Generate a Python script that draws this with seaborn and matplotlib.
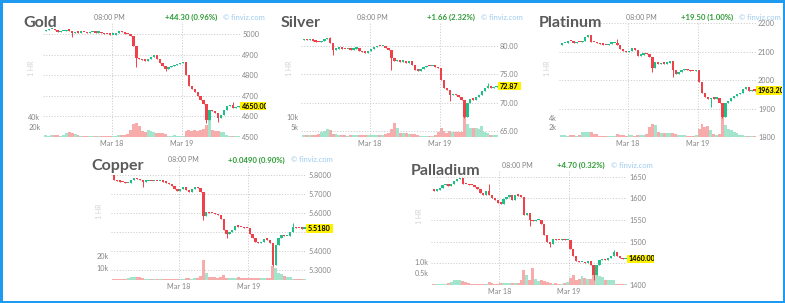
import numpy as np
import pandas as pd
import matplotlib
matplotlib.use("Agg")
import matplotlib.pyplot as plt
import matplotlib.transforms as mtransforms
from matplotlib.patches import Rectangle
import seaborn as sns

# ---------------- data: 1-hour candles, closes / volumes (thousands) ----------------
day_pos = [22.5, 46.5]
day_labels = ["Mar 18", "Mar 19"]

gold_open0 = 5015
gold_close = [5020, 5022, 5026, 5018, 5010, 5012, 5015, 5020, 5016, 5005,
              5008, 5006, 5008, 5007, 5005, 5007, 5008, 5006, 5010, 5004,
              5000, 4998, 4996, 4997, 5005, 5014, 5010, 5002, 5000, 4990,
              4940, 4885, 4878, 4872, 4870, 4876, 4890, 4897, 4880, 4860,
              4845, 4832, 4838, 4845, 4848, 4852, 4858, 4862, 4800, 4745,
              4735, 4718, 4700, 4680, 4662, 4582, 4630, 4625, 4615, 4590,
              4605, 4630, 4650, 4655, 4640, 4645, 4650]
gold_vol = [3.5, 3, 3.5, 4, 5, 3, 3.5, 8, 10, 9,
            7, 4, 3, 3, 2.5, 2.5, 2, 2, 2.5, 3,
            3, 2.5, 3, 3, 3, 3.5, 4, 5, 6, 14,
            28, 30, 24, 13, 11, 14, 12, 10, 9, 8,
            8, 7, 3, 3, 4, 3, 3, 3, 13, 14,
            13, 14, 13, 15, 16, 26, 48, 14, 12, 13,
            11, 10, 4, 3, 3, 2.5, 2]
gold_wicks = {9: (None, 4985), 31: (None, 4840), 41: (None, 4818),
              55: (None, 4570), 59: (None, 4575), 64: (4672, None)}
gold_ticks = [4500, 4600, 4700, 4800, 4900, 5000]

silver_open0 = 81.0
silver_close = [81.1, 81.0, 81.1, 80.9, 80.7, 80.6, 80.8, 81.2, 81.3, 80.4,
                79.3, 79.5, 79.6, 79.5, 79.4, 79.4, 79.3, 79.5, 79.6, 79.1,
                78.9, 78.8, 79.1, 79.4, 79.8, 80.0, 79.9, 80.0, 79.6, 79.2,
                77.9, 77.3, 77.5, 77.2, 77.3, 77.0, 77.3, 76.6, 75.8, 75.6,
                75.9, 76.2, 76.5, 76.4, 76.5, 76.3, 76.0, 74.0, 72.6, 72.3,
                71.3, 71.6, 71.3, 71.0, 70.4, 67.5, 70.0, 70.6, 70.5, 70.9,
                71.4, 72.0, 72.6, 72.9, 72.6, 72.7, 72.87]
silver_vol = [1.0, 1.0, 0.9, 1.0, 1.2, 1.7, 2.5, 3.0, 4.2, 3.5,
              1.8, 1.5, 1.2, 0.8, 0.8, 0.7, 0.8, 0.8, 0.9, 1.0,
              1.0, 0.9, 1.0, 1.0, 1.1, 1.2, 1.3, 1.3, 1.5, 2.0,
              4.2, 7.5, 5.0, 2.2, 2.0, 2.0, 1.8, 1.8, 1.6, 1.2,
              0.7, 0.7, 0.6, 0.7, 0.6, 0.8, 2.5, 5.0, 3.4, 2.2,
              3.4, 2.5, 2.4, 2.5, 2.6, 14.0, 7.0, 5.0, 5.0, 4.5,
              4.2, 6.0, 2.5, 2.0, 1.0, 0.8, 0.8]
silver_wicks = {9: (81.6, None), 10: (None, 78.3), 30: (None, 75.8),
                50: (None, 70.3), 55: (None, 67.3), 63: (73.4, None)}
silver_ticks = [65, 70, 75, 80]

platinum_open0 = 2124
platinum_close = [2129, 2132, 2138, 2136, 2130, 2134, 2133, 2136, 2150, 2158,
                  2135, 2133, 2130, 2127, 2125, 2124, 2128, 2130, 2131, 2122,
                  2108, 2102, 2098, 2104, 2112, 2106, 2086, 2090, 2095, 2092,
                  2080, 2042, 2064, 2056, 2060, 2058, 2062, 2066, 2036, 2022,
                  2030, 2035, 2040, 2034, 2032, 2031, 2034, 1995, 1955, 1940,
                  1932, 1936, 1935, 1938, 1920, 1872, 1920, 1925, 1938, 1945,
                  1950, 1955, 1968, 1975, 1962, 1964, 1963.2]
platinum_vol = [0.4, 0.4, 0.3, 0.4, 0.4, 0.3, 0.4, 1.0, 1.1, 1.1,
                1.0, 0.7, 0.6, 0.3, 0.3, 0.2, 0.2, 0.2, 0.2, 0.7,
                0.5, 0.4, 0.3, 0.4, 0.4, 0.3, 0.4, 0.4, 0.5, 0.6,
                2.2, 2.8, 2.6, 1.0, 0.9, 0.8, 0.8, 0.9, 0.8, 0.6,
                0.4, 0.4, 0.5, 0.3, 0.3, 0.3, 0.4, 1.8, 2.8, 2.2,
                2.4, 1.5, 0.6, 0.5, 0.6, 4.8, 2.6, 1.8, 1.5, 1.1,
                0.9, 0.5, 0.4, 0.3, 0.3, 0.2, 0.2]
platinum_wicks = {19: (2145, None), 31: (None, 2028), 38: (None, 2012),
                  51: (None, 1905), 55: (None, 1868)}
platinum_ticks = [1800, 1900, 2000, 2100, 2200]

copper_open0 = 5.800
copper_close = [5.774, 5.768, 5.765, 5.762, 5.758, 5.760, 5.772, 5.785, 5.778, 5.772,
                5.765, 5.768, 5.770, 5.768, 5.768, 5.766, 5.768, 5.765, 5.760, 5.752,
                5.742, 5.725, 5.718, 5.728, 5.735, 5.722, 5.712, 5.725, 5.738, 5.732,
                5.712, 5.585, 5.605, 5.600, 5.598, 5.594, 5.590, 5.570, 5.510, 5.488,
                5.500, 5.512, 5.530, 5.528, 5.525, 5.522, 5.520, 5.490, 5.470, 5.450,
                5.440, 5.448, 5.462, 5.460, 5.440, 5.328, 5.430, 5.470, 5.482, 5.478,
                5.480, 5.500, 5.528, 5.522, 5.520, 5.518, 5.518]
copper_vol = [1.2, 1.2, 1.0, 1.0, 1.2, 1.3, 2.3, 2.5, 2.5, 2.3,
              2.0, 1.0, 0.9, 0.9, 0.8, 0.8, 0.9, 0.8, 0.9, 1.0,
              1.0, 1.2, 1.2, 1.0, 1.2, 1.3, 1.3, 1.2, 1.4, 1.6,
              3.0, 17.0, 6.0, 2.5, 2.3, 2.3, 2.0, 2.8, 4.0, 1.8,
              1.5, 1.3, 1.5, 2.8, 1.5, 1.3, 1.6, 1.8, 1.5, 2.0,
              1.6, 1.5, 1.8, 1.5, 2.0, 11.5, 10.0, 6.0, 5.0, 3.0,
              2.8, 2.5, 1.0, 0.9, 0.8, 0.8, 0.8]
copper_wicks = {10: (None, 5.735), 31: (None, 5.565), 39: (None, 5.47),
                55: (None, 5.32), 62: (5.545, None)}
copper_ticks = [5.3, 5.4, 5.5, 5.6, 5.7, 5.8]

palladium_open0 = 1622
palladium_close = [1618, 1620, 1624, 1630, 1634, 1628, 1634, 1640, 1645, 1647,
                   1634, 1632, 1631, 1630, 1626, 1622, 1612, 1608, 1618, 1608,
                   1600, 1596, 1590, 1588, 1598, 1604, 1608, 1595, 1607, 1606,
                   1604, 1562, 1565, 1550, 1548, 1549, 1550, 1540, 1515, 1500,
                   1495, 1505, 1504, 1503, 1505, 1503, 1504, 1482, 1468, 1455,
                   1452, 1453, 1451, 1455, 1445, 1422, 1445, 1458, 1460, 1458,
                   1462, 1468, 1475, 1468, 1462, 1460, 1460]
palladium_vol = [0.06, 0.06, 0.05, 0.06, 0.06, 0.08, 0.15, 0.20, 0.22, 0.22,
                 0.18, 0.12, 0.10, 0.05, 0.05, 0.04, 0.04, 0.05, 0.06, 0.12,
                 0.07, 0.06, 0.06, 0.07, 0.08, 0.07, 0.08, 0.09, 0.09, 0.09,
                 0.22, 0.66, 0.45, 0.22, 0.75, 0.25, 0.18, 0.22, 0.18, 0.15,
                 0.07, 0.06, 0.07, 0.06, 0.06, 0.07, 0.12, 0.30, 0.45, 0.22,
                 0.25, 0.40, 0.30, 0.25, 0.25, 0.66, 0.45, 0.38, 0.35, 0.22,
                 0.20, 0.20, 0.20, 0.05, 0.05, 0.04, 0.04]
palladium_wicks = {19: (1632, None), 33: (None, 1536), 40: (None, 1488),
                   55: (None, 1411), 62: (1480, None)}
palladium_ticks = [1400, 1450, 1500, 1550, 1600, 1650]

changes = ["+44.30 (0.96%)", "+1.66 (2.32%)", "+19.50 (1.00%)",
           "+0.0490 (0.90%)", "+4.70 (0.32%)"]

# ---------------- style ----------------
sns.set_theme(style="white")
plt.rcParams["font.family"] = ["Lato", "DejaVu Sans"]

UP, DOWN = "#1fbf86", "#ee4149"
VOL_UP, VOL_DOWN = "#a3e4cc", "#f7abab"
GRID = "#c4c4c4"
TICK = "#858585"
TITLE = "#5a5a5a"
GREEN_TXT = "#2d9b35"
LINK = "#9dcbef"
HR = "#d2d2d2"
YELLOW = "#fff200"
BORDER = "#1e9bf0"

W, H = 785, 303
PANEL_H = 114
fig = plt.figure(figsize=(W / 100, H / 100), dpi=100)
fig.patch.set_facecolor("white")


def fx(x):
    return x / W


def fy(y):
    return 1 - y / H


panels = [
    dict(name="Gold", open0=gold_open0, close=gold_close, vol=gold_vol, wicks=gold_wicks,
         ticks=gold_ticks, fmt="{:.0f}", tag="{:.2f}", change=changes[0],
         left=43, top=23, width=197, ylim=(4500, 5053),
         vticks=[20, 40], vlabels=["20k", "40k"], vtop=240, time_dx=66),
    dict(name="Silver", open0=silver_open0, close=silver_close, vol=silver_vol, wicks=silver_wicks,
         ticks=silver_ticks, fmt="{:.2f}", tag="{:.2f}", change=changes[1],
         left=301, top=23, width=197, ylim=(63.95, 84.0),
         vticks=[5, 10], vlabels=["5k", "10k"], vtop=60, time_dx=71.5),
    dict(name="Platinum", open0=platinum_open0, close=platinum_close, vol=platinum_vol,
         wicks=platinum_wicks, ticks=platinum_ticks, fmt="{:.0f}", tag="{:.2f}", change=changes[2],
         left=559, top=23, width=197, ylim=(1800, 2201),
         vticks=[2, 4], vlabels=["2k", "4k"], vtop=25.3, time_dx=82),
    dict(name="Copper", open0=copper_open0, close=copper_close, vol=copper_vol, wicks=copper_wicks,
         ticks=copper_ticks, fmt="{:.4f}", tag="{:.4f}", change=changes[3],
         left=111, top=166, width=195, ylim=(5.2474, 5.8474),
         vticks=[10, 20], vlabels=["10k", "20k"], vtop=97, time_dx=72),
    dict(name="Palladium", open0=palladium_open0, close=palladium_close, vol=palladium_vol,
         wicks=palladium_wicks, ticks=palladium_ticks, fmt="{:.0f}", tag="{:.2f}", change=changes[4],
         left=431, top=171, width=196, ylim=(1400, 1663),
         vticks=[0.5, 1.0], vlabels=["0.5k", "1.0k"], vtop=5.0, time_dx=86),
]

renderer = fig.canvas.get_renderer()

for p in panels:
    L, T, PW = p["left"], p["top"], p["width"]
    rect = [fx(L), fy(T + PANEL_H), PW / W, PANEL_H / H]
    close = np.asarray(p["close"], dtype=float)
    n = len(close)
    idx = np.arange(n)
    opn = np.r_[p["open0"], close[:-1]]
    rising = close >= opn
    px_unit = (p["ylim"][1] - p["ylim"][0]) / PANEL_H
    last = close[-1]

    # volume bars underneath the candles
    axv = fig.add_axes(rect)
    vdf = pd.DataFrame({"i": idx, "vol": p["vol"],
                        "dir": np.where(rising, "up", "down")})
    sns.barplot(data=vdf, x="i", y="vol", hue="dir",
                palette={"up": VOL_UP, "down": VOL_DOWN},
                native_scale=True, dodge=False, width=1.0, saturation=1,
                linewidth=0, errorbar=None, legend=False, ax=axv)
    axv.set_xlim(-1, 66.5)
    axv.set_ylim(0, p["vtop"])
    axv.set_axis_off()

    # price panel; a tick label hidden under the last-price tag is left blank
    axp = fig.add_axes(rect)
    axp.patch.set_alpha(0)
    for s in axp.spines.values():
        s.set_visible(False)
    axp.set_xlim(-1, 66.5)
    axp.set_ylim(*p["ylim"])
    axp.set_yticks(p["ticks"])
    axp.set_yticklabels(["" if abs(v - last) < 6 * px_unit else p["fmt"].format(v)
                         for v in p["ticks"]])
    axp.yaxis.tick_right()
    axp.tick_params(axis="y", length=0, pad=1.5, labelsize=5.2, labelcolor=TICK)
    axp.set_xticks(day_pos)
    axp.set_xticklabels(day_labels)
    axp.tick_params(axis="x", length=0, pad=2, labelsize=5.2, labelcolor=TICK)
    axp.grid(True, axis="both", color=GRID, linewidth=0.6, linestyle=(0, (1.3, 2.0)))
    axp.set_axisbelow(True)

    lo_body = np.minimum(opn, close)
    hi_body = np.maximum(opn, close)
    hi, lo = hi_body.copy(), lo_body.copy()
    for k, (wh, wl) in p["wicks"].items():
        if wh is not None:
            hi[k] = wh
        if wl is not None:
            lo[k] = wl
    colors = np.where(rising, UP, DOWN)
    axp.vlines(idx, lo, hi, colors=colors, linewidth=0.7, zorder=3)
    axp.bar(idx, np.maximum(hi_body - lo_body, 1.3 * px_unit), bottom=lo_body,
            width=0.8, color=colors, linewidth=0, zorder=4)

    # header texts
    fig.text(fx(L - 20), fy(T + 4), p["name"], fontsize=11.5, weight="bold",
             color=TITLE, ha="left", va="baseline")
    fig.text(fx(L + p["time_dx"]), fy(T - 6), "08:00 PM", fontsize=5,
             color="#808080", ha="center", va="center")
    fig.text(fx(L + 174), fy(T - 6), p["change"], fontsize=5.6, weight="bold",
             color=GREEN_TXT, ha="right", va="center")
    fig.text(fx(L + 222), fy(T - 6), "\u00a9 finviz.com", fontsize=5.4,
             color=LINK, ha="right", va="center")
    fig.text(fx(L - 11.5), fy(T + 45), "1 HR", fontsize=5, color=HR,
             rotation=90, ha="center", va="center")

    # volume scale labels on the left
    vtrans = mtransforms.blended_transform_factory(fig.transFigure, axv.transData)
    for v, lab in zip(p["vticks"], p["vlabels"]):
        fig.text(fx(L - 2.5), v, lab, transform=vtrans, fontsize=5.2,
                 color=TICK, ha="right", va="center")

    # last price tag, clipped to the panel's column
    clip = mtransforms.TransformedBbox(
        mtransforms.Bbox.from_extents(fx(L), 0, fx(L + 223), 1), fig.transFigure)
    ptrans = mtransforms.blended_transform_factory(fig.transFigure, axp.transData)
    t = fig.text(fx(L + PW + 2), last, p["tag"].format(last), transform=ptrans,
                 fontsize=5.2, weight="bold", color="black", ha="left", va="center",
                 zorder=6)
    tw = t.get_window_extent(renderer).width
    box_h = 8.3 * px_unit
    box = Rectangle((fx(L + PW), last - box_h / 2), (tw + 4) / W, box_h,
                    transform=ptrans, facecolor=YELLOW, edgecolor="none", zorder=5)
    fig.add_artist(box)
    for a in (t, box):
        a.set_clip_box(clip)
        a.set_clip_on(True)

# outer frame
fig.add_artist(Rectangle((0, 0), 1, 1, transform=fig.transFigure, fill=False,
                         edgecolor=BORDER, linewidth=3.6, zorder=10))

fig.savefig("out.png", dpi=100, facecolor="white")
